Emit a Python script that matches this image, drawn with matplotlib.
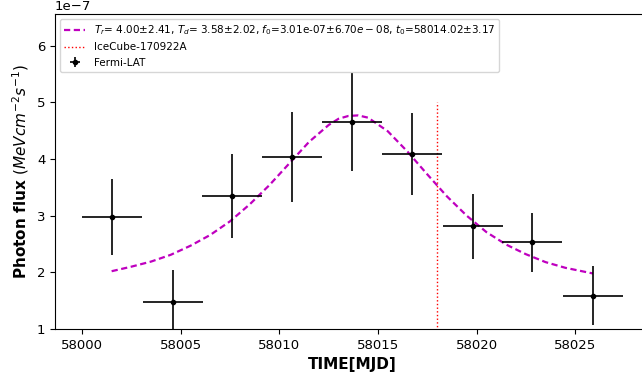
import numpy as np
import matplotlib
matplotlib.use("Agg")
import matplotlib.pyplot as plt

# Fermi-LAT light curve (flux in 1e-7 units)
time = [58001.54, 58004.6, 58007.61, 58010.65, 58013.69, 58016.73, 58019.83, 58022.82, 58025.9]
time_err = [1.52, 1.52, 1.52, 1.52, 1.52, 1.52, 1.52, 1.52, 1.52]
flux = [2.98, 1.47, 3.34, 4.04, 4.65, 4.09, 2.81, 2.53, 1.59]
flux_err = [0.67, 0.58, 0.74, 0.79, 0.87, 0.73, 0.57, 0.52, 0.52]

# fitted flare profile
fit_t = [58001.5, 58002.5, 58003.5, 58004.5, 58005.5, 58006.5, 58007.5, 58008.5,
         58009.5, 58010.5, 58011.5, 58012.5, 58013.0, 58013.5, 58014.0, 58014.5,
         58015.5, 58016.5, 58017.5, 58018.5, 58019.5, 58020.5, 58021.5, 58022.5,
         58023.5, 58024.5, 58025.9]
fit_f = [2.02, 2.10, 2.19, 2.31, 2.47, 2.66, 2.90, 3.20,
         3.54, 3.92, 4.30, 4.60, 4.71, 4.76, 4.77, 4.73,
         4.49, 4.13, 3.73, 3.34, 3.00, 2.71, 2.49, 2.32,
         2.18, 2.08, 1.98]
fit_label = (r'$T_r$= 4.00$\pm$2.41, $T_d$= 3.58$\pm$2.02, '
             r'$f_0$=3.01e-07$\pm$6.70$e-$08, $t_0$=58014.02$\pm$3.17')

icecube_t = 58018.0
icecube_top = 5.0

scale = 1e-7

fig = plt.figure(figsize=(6.42, 3.81), dpi=100)
ax = fig.add_axes([0.0857, 0.1365, 0.927, 0.8268])

ax.plot(fit_t, np.array(fit_f) * scale, color='m', lw=1.6, dashes=(2.8, 1.6),
        label=fit_label)
ax.plot([icecube_t, icecube_t], [0, icecube_top * scale], color='red', ls=':', lw=1.0,
        label='IceCube-170922A')
ax.errorbar(time, np.array(flux) * scale, xerr=time_err, yerr=np.array(flux_err) * scale,
            fmt='o', color='k', ms=3, elinewidth=1.2, label='Fermi-LAT')

ax.set_xlim(57998.63, 58028.8)
ax.set_ylim(1e-7, 6.56e-7)
ax.set_xticks([58000, 58005, 58010, 58015, 58020, 58025])
ax.tick_params(labelsize=9.5)
ax.yaxis.get_offset_text().set_fontsize(9.5)

ax.set_xlabel('TIME[MJD]', fontsize=11, fontweight='bold')
ax.set_ylabel(r'Photon flux $(MeV cm^{-2} s^{-1})$', fontsize=11, fontweight='bold')

ax.legend(loc='upper left', fontsize=7.5)

fig.savefig('out.png', dpi=100)
